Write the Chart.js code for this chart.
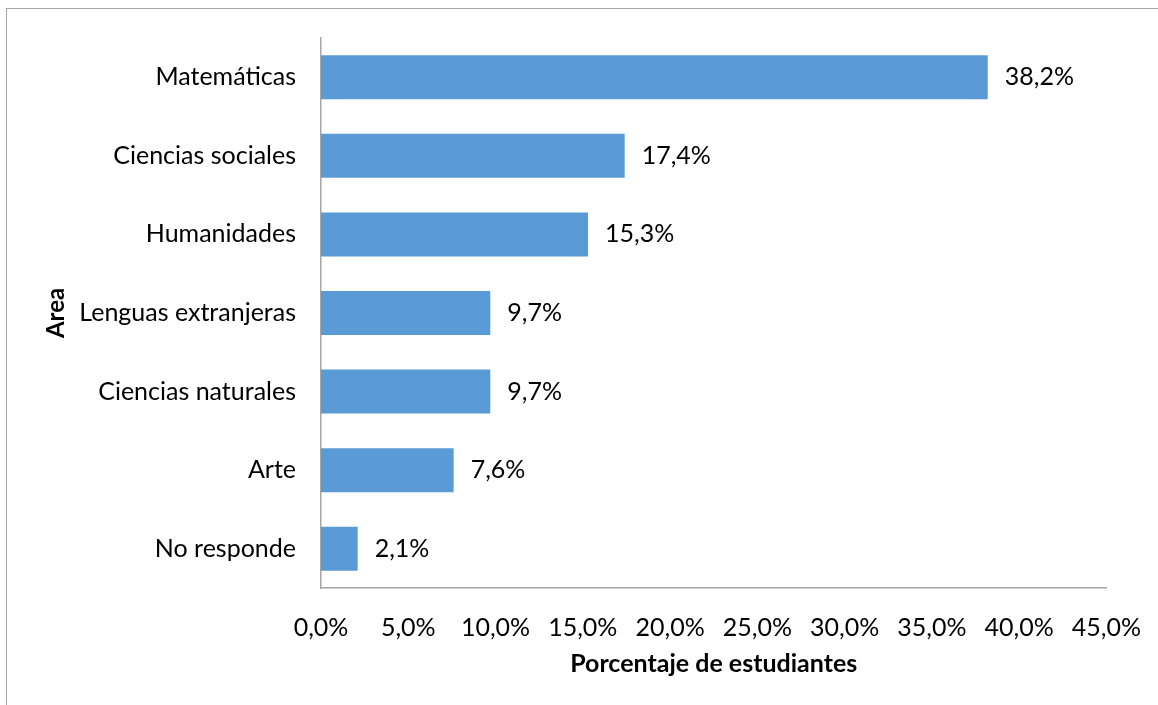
<!DOCTYPE html>
<html>
<head>
<meta charset="utf-8">
<script src="https://cdn.jsdelivr.net/npm/chart.js@4/dist/chart.umd.min.js"></script>
<style>
  body { margin: 0; background: #fff; }
  #wrap { position: relative; width: 1158px; height: 705px; overflow: hidden; }
  #frame { position: absolute; left: 6px; top: 8px; width: 1170px; height: 720px; border: 1px solid #a6a6a6; box-sizing: border-box; }
  canvas { position: absolute; left: 0; top: 0; }
</style>
</head>
<body>
<div id="wrap">
  <div id="frame"></div>
  <canvas id="areaChart" width="1158" height="705"></canvas>
</div>
<script>
// datos
const areas = ["Matemáticas", "Ciencias sociales", "Humanidades", "Lenguas extranjeras", "Ciencias naturales", "Arte", "No responde"];
const porcentajes = [38.2, 17.4, 15.3, 9.7, 9.7, 7.6, 2.1];
const ticksX = [0, 5, 10, 15, 20, 25, 30, 35, 40, 45];

const FONT = "Lato, 'Liberation Sans', sans-serif";
const fmt = (v, d) => v.toFixed(d).replace(".", ",") + "%";

// etiquetas al final de cada barra
const etiquetas = {
  id: "etiquetas",
  afterDatasetsDraw(chart) {
    const ctx = chart.ctx;
    ctx.save();
    ctx.font = "25px " + FONT;
    ctx.fillStyle = "#000";
    ctx.textAlign = "left";
    ctx.textBaseline = "middle";
    chart.getDatasetMeta(0).data.forEach((bar, i) => {
      ctx.fillText(fmt(porcentajes[i], 1), bar.x + 17, bar.y);
    });
    ctx.restore();
  }
};

new Chart(document.getElementById("areaChart"), {
  type: "bar",
  data: {
    labels: areas,
    datasets: [{
      data: porcentajes,
      backgroundColor: "#5b9bd5",
      barPercentage: 0.56,
      categoryPercentage: 1
    }]
  },
  options: {
    indexAxis: "y",
    responsive: false,
    animation: false,
    layout: { padding: { top: 38, right: 40, bottom: 0, left: 0 } },
    plugins: { legend: { display: false }, tooltip: { enabled: false } },
    scales: {
      x: {
        min: 0, max: 45,
        afterBuildTicks: (s) => { s.ticks = ticksX.map(v => ({ value: v })); },
        afterFit: (s) => { s.height = 117; },
        grid: { display: false },
        border: { display: true, color: "#a6a6a6", width: 1.5 },
        ticks: { color: "#000", padding: 17, maxRotation: 0, font: { family: FONT, size: 25 }, callback: (v) => fmt(v, 1) },
        title: { display: true, text: "Porcentaje de estudiantes", color: "#000", padding: { top: 0, bottom: 26 }, font: { family: FONT, size: 25, weight: "bold" } }
      },
      y: {
        afterFit: (s) => { s.width = 321; },
        grid: { display: false },
        border: { display: true, color: "#a6a6a6", width: 1.5 },
        ticks: { color: "#000", padding: 17, font: { family: FONT, size: 25 } },
        title: { display: true, text: "Area", color: "#000", padding: { top: 42, bottom: 0 }, font: { family: FONT, size: 24, weight: "bold" } }
      }
    }
  },
  plugins: [etiquetas]
});
</script>
</body>
</html>
